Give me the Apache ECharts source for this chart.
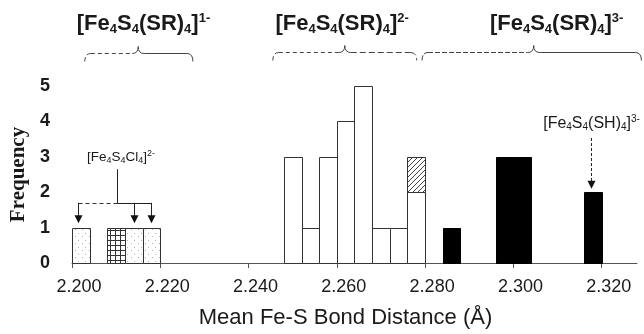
<!DOCTYPE html>
<html>
<head>
<meta charset="utf-8">
<script src="https://cdn.jsdelivr.net/npm/echarts@6/dist/echarts.min.js"></script>
<style>
  html, body { margin: 0; padding: 0; background: #fff; }
  #chart { width: 644px; height: 334px; }
</style>
</head>
<body>
<div id="chart"></div>
<script>
// histogram bins are 0.004 A wide, values = bin start
const binWidth = 0.004
const xTicks = [2.200, 2.220, 2.240, 2.260, 2.280, 2.300, 2.320]
const yTicks = [0, 1, 2, 3, 4, 5]

// [Fe4S4(SR)4]1- (stippled) and the cross-hatched bin
const oneBins = [2.200, 2.212, 2.216]
const oneCounts = [1, 1, 1]
const gridBins = [2.208]
const gridCounts = [1]

// [Fe4S4(SR)4]2- (open bars) + hatched bin stacked on top
const twoBins = [2.248, 2.252, 2.256, 2.260, 2.264, 2.268, 2.272, 2.276]
const twoCounts = [3, 1, 3, 4, 5, 1, 1, 2]
const hatchBins = [2.276]
const hatchBase = [2]
const hatchCounts = [1]

// [Fe4S4(SR)4]3- (solid bars)
const threeBins = [2.284, 2.296, 2.300, 2.316]
const threeCounts = [1, 3, 3, 2]

const SANS = '"Liberation Sans", Arial, Helvetica, sans-serif'
const INK = '#1a1a1a'

function makePattern(size, draw) {
  const c = document.createElement('canvas')
  c.width = c.height = size
  const ctx = c.getContext('2d')
  ctx.fillStyle = '#fff'
  ctx.fillRect(0, 0, size, size)
  draw(ctx, size)
  return { image: c, repeat: 'repeat' }
}
const dotFill = makePattern(7, ctx => {
  ctx.fillStyle = '#b4b4b4'
  ctx.fillRect(1, 2, 1, 1)
  ctx.fillRect(5, 5, 1, 1)
})
const gridFill = makePattern(5, ctx => {
  ctx.fillStyle = '#333'
  ctx.fillRect(0, 0, 5, 1)
  ctx.fillRect(0, 0, 1, 5)
})
const hatchFill = makePattern(5, (ctx, s) => {
  ctx.fillStyle = '#444'
  for (let i = 0; i < s; i++) ctx.fillRect(i, s - 1 - i, 1, 1)
})

function binSeries(name, bins, counts, bases, style) {
  return {
    type: 'custom',
    name: name,
    data: bins.map((b, i) => [b, counts[i], bases ? bases[i] : 0]),
    encode: { x: 0, y: 1 },
    renderItem: (params, api) => {
      const x0 = api.value(0), h = api.value(1), base = api.value(2)
      const p0 = api.coord([x0, base])
      const p1 = api.coord([x0 + binWidth, base + h])
      const left = Math.round(p0[0]) + 0.5, right = Math.round(p1[0]) + 0.5
      const bottom = Math.round(p0[1]) + 0.5, top = Math.round(p1[1]) + 0.5
      return {
        type: 'rect',
        shape: { x: left, y: top, width: right - left, height: bottom - top },
        style: Object.assign({ lineWidth: 1 }, style)
      }
    }
  }
}

const chart = echarts.init(document.getElementById('chart'))

chart.setOption({
  animation: false,
  backgroundColor: '#fff',
  grid: { left: 72, right: 7, top: 86, bottom: 65 },
  xAxis: {
    type: 'value',
    min: 2.2,
    max: 2.328,
    interval: 0.02,
    name: 'Mean Fe-S Bond Distance (Å)',
    nameLocation: 'middle',
    nameGap: 44,
    nameTextStyle: { fontFamily: SANS, fontSize: 22, color: INK, padding: [0, 18, 0, 0] },
    axisLine: { lineStyle: { color: '#555', width: 1 } },
    axisTick: { length: 5, customValues: xTicks, lineStyle: { color: '#555' } },
    axisLabel: {
      customValues: xTicks,
      formatter: v => v.toFixed(3),
      fontFamily: SANS, fontSize: 18, color: INK,
      margin: 15, padding: [0, 0, 0, 14]
    },
    splitLine: { show: false }
  },
  yAxis: {
    type: 'value',
    min: 0,
    max: 5,
    interval: 1,
    name: 'Frequency',
    nameLocation: 'middle',
    nameGap: 38,
    nameTextStyle: { fontFamily: '"Liberation Serif", "Times New Roman", serif', fontWeight: 'bold', fontSize: 21, color: INK },
    axisLine: { show: false },
    axisTick: { show: false },
    axisLabel: { customValues: yTicks, fontFamily: SANS, fontWeight: 'bold', fontSize: 18, color: INK, margin: 22 },
    splitLine: { show: false }
  },
  series: [
    binSeries('[Fe4S4(SR)4]1-', oneBins, oneCounts, null, { fill: dotFill, stroke: '#333' }),
    binSeries('cross', gridBins, gridCounts, null, { fill: gridFill, stroke: '#333' }),
    binSeries('[Fe4S4(SR)4]2-', twoBins, twoCounts, null, { fill: '#fff', stroke: '#333' }),
    binSeries('hatched', hatchBins, hatchCounts, hatchBase, { fill: hatchFill, stroke: '#333' }),
    binSeries('[Fe4S4(SR)4]3-', threeBins, threeCounts, null, { fill: '#000', stroke: '#000' })
  ]
})

// ---- annotations (positions in data units where they sit on the plot) ----
const px = (x, y) => chart.convertToPixel({ gridIndex: 0 }, [x, y])

function chemRich(parts, main, small, bold) {
  // parts: [text, kind] kind m = normal, s = subscript, p = superscript
  const text = parts.map(p => '{' + p[1] + '|' + p[0] + '}').join('')
  const w = bold ? 'bold' : 'normal'
  return {
    text: text,
    rich: {
      m: { fontFamily: SANS, fontWeight: w, fontSize: main, lineHeight: main + 2, fill: INK },
      s: { fontFamily: SANS, fontWeight: w, fontSize: small, lineHeight: small, verticalAlign: 'bottom', fill: INK },
      p: { fontFamily: SANS, fontWeight: w, fontSize: small, lineHeight: small, verticalAlign: 'top', fill: INK }
    }
  }
}
const srParts = charge => [['[Fe', 'm'], ['4', 's'], ['S', 'm'], ['4', 's'], ['(SR)', 'm'], ['4', 's'], [']', 'm'], [charge, 'p']]

const headers = [
  { x: 2.2162, charge: '1-' },
  { x: 2.2612, charge: '2-' },
  { x: 2.3098, charge: '3-' }
]
const braces = [
  { from: 2.2029, peak: 2.2150, to: 2.2274, y: 53, leftDash: [4, 3], rightDash: null },
  { from: 2.2455, peak: 2.2618, to: 2.2781, y: 52, leftDash: [4, 3], rightDash: [6, 3] },
  { from: 2.2793, peak: 2.3046, to: 2.3290, y: 52, leftDash: [5, 2], rightDash: null }
]

const graphics = []
headers.forEach(h => {
  const p = px(h.x, 0)
  const t = chemRich(srParts(h.charge), 22, 13, true)
  graphics.push({ type: 'text', x: p[0], y: 24, style: Object.assign({ align: 'center', verticalAlign: 'middle' }, t) })
})

const lineStyle = dash => ({ stroke: '#444', lineWidth: 1, lineDash: dash || null, fill: null })
braces.forEach(b => {
  const x0 = px(b.from, 0)[0], xm = px(b.peak, 0)[0], x1 = px(b.to, 0)[0], y = b.y + 0.5
  const hook = 8, tip = 7, r = 6
  graphics.push(
    { type: 'bezierCurve', shape: { x1: x0, y1: y + hook, x2: x0 + r, y2: y, cpx1: x0, cpy1: y }, style: lineStyle(b.leftDash) },
    { type: 'line', shape: { x1: x0 + r, y1: y, x2: xm - r, y2: y }, style: lineStyle(b.leftDash) },
    { type: 'bezierCurve', shape: { x1: xm - r, y1: y, x2: xm, y2: y - tip, cpx1: xm, cpy1: y }, style: lineStyle(null) },
    { type: 'bezierCurve', shape: { x1: xm, y1: y - tip, x2: xm + r, y2: y, cpx1: xm, cpy1: y }, style: lineStyle(null) },
    { type: 'line', shape: { x1: xm + r, y1: y, x2: x1 - r, y2: y }, style: lineStyle(b.rightDash) },
    { type: 'bezierCurve', shape: { x1: x1 - r, y1: y, x2: x1, y2: y + hook, cpx1: x1, cpy1: y }, style: lineStyle(b.rightDash) }
  )
})

function arrow(x, yFrom, yTip, dash) {
  const a = px(x, yFrom), b = px(x, yTip)
  const xx = Math.round(a[0]) + 0.5
  graphics.push(
    { type: 'line', shape: { x1: xx, y1: a[1], x2: xx, y2: b[1] - 6 }, style: { stroke: '#222', lineWidth: 1, lineDash: dash || null } },
    { type: 'polygon', shape: { points: [[xx - 4, b[1] - 8], [xx + 4, b[1] - 8], [xx, b[1]]] }, style: { fill: '#111' } }
  )
}

// [Fe4S4Cl4]2- label with its bracket and three arrows
const clLabel = { x: 2.2111, y: 3.0 }
const clStem = { x: 2.2102, top: 2.65, join: 1.70 }
const clArrows = [2.2013, 2.2140, 2.2180]
const clTip = 1.12
{
  const p = px(clLabel.x, clLabel.y)
  const t = chemRich([['[Fe', 'm'], ['4', 's'], ['S', 'm'], ['4', 's'], ['Cl', 'm'], ['4', 's'], [']', 'm'], ['2-', 'p']], 13.5, 9, false)
  graphics.push({ type: 'text', x: p[0], y: p[1], style: Object.assign({ align: 'center', verticalAlign: 'middle' }, t) })
  const s0 = px(clStem.x, clStem.top), s1 = px(clStem.x, clStem.join)
  const sx = Math.round(s0[0]) + 0.5, jy = Math.round(s1[1]) + 0.5
  graphics.push({ type: 'line', shape: { x1: sx, y1: s0[1], x2: sx, y2: jy }, style: { stroke: '#222', lineWidth: 1 } })
  const l = px(clArrows[0], clStem.join)[0], r = px(clArrows[clArrows.length - 1], clStem.join)[0]
  graphics.push(
    { type: 'line', shape: { x1: Math.round(l) + 0.5, y1: jy, x2: sx, y2: jy }, style: { stroke: '#333', lineWidth: 1, lineDash: [4, 3] } },
    { type: 'line', shape: { x1: sx, y1: jy, x2: Math.round(r) + 0.5, y2: jy }, style: { stroke: '#222', lineWidth: 1 } }
  )
  clArrows.forEach(x => arrow(x, clStem.join, clTip))
}

// [Fe4S4(SH)4]3- label and arrow
const shLabel = { x: 2.3177, y: 3.94 }
const shArrow = { x: 2.3175, from: 3.53, tip: 2.10 }
{
  const p = px(shLabel.x, shLabel.y)
  const t = chemRich([['[Fe', 'm'], ['4', 's'], ['S', 'm'], ['4', 's'], ['(SH)', 'm'], ['4', 's'], [']', 'm'], ['3-', 'p']], 16, 10, false)
  graphics.push({ type: 'text', x: p[0], y: p[1], style: Object.assign({ align: 'center', verticalAlign: 'middle' }, t) })
  arrow(shArrow.x, shArrow.from, shArrow.tip, [3, 2])
}

chart.setOption({ graphic: graphics })
</script>
</body>
</html>
